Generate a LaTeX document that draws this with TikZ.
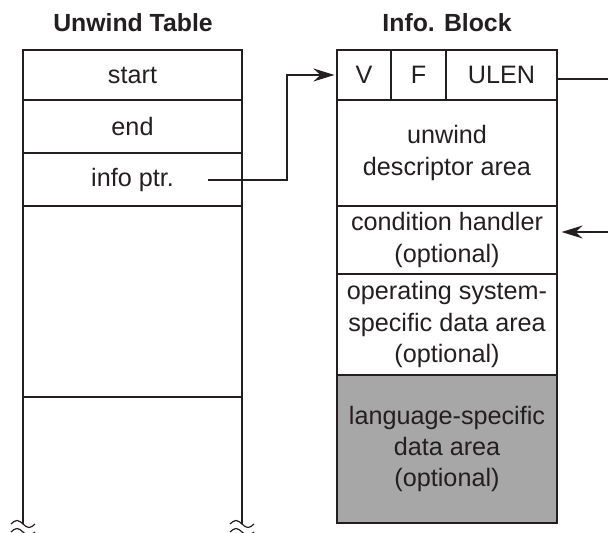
\documentclass[tikz,border=0pt]{standalone}
\usepackage{fontspec}
\setmainfont{Liberation Sans}
\usetikzlibrary{arrows.meta}
\definecolor{ink}{HTML}{231F20}
\definecolor{lsdgray}{HTML}{A7A7A7}
\tikzset{
  cell/.style={draw=ink, line width=0.6pt, inner sep=0pt, align=center, text=ink,
    minimum width=110pt, font=\fontsize{12.6}{15.6}\selectfont},
  frame/.style={draw=ink, line width=1pt},
  rowline/.style={draw=ink, line width=0.6pt},
  title/.style={text=ink, font=\fontsize{12.4}{14}\selectfont\bfseries},
  ptr/.style={draw=ink, line width=0.6pt, shorten >=1pt,
    -{Stealth[length=10.5pt, width=6.5pt, inset=3.5pt]}},
}

\begin{document}
\begin{tikzpicture}[x=0.5pt, y=-0.5pt]
\useasboundingbox (0,0) rectangle (608,533);
% titles
\node[title] (uwtitle) at (133,23) {Unwind Table};
\node[title] (ibtitle) at (447,23) {Info. Block};
% unwind table
\node[cell, minimum width=109.5pt, minimum height=25pt] (start) at (132.5,75) {start};
\node[cell, minimum width=109.5pt, minimum height=26.5pt] (end) at (132.5,126.5) {end};
\node[cell, minimum width=109.5pt, minimum height=26.5pt] (infoptr) at (132.5,179.5) {info ptr.};
\draw[rowline] (23,397) -- (242,397);
\draw[frame] (23,524) -- (23,50) -- (242,50) -- (242,524);
% breaks
\draw[rowline] (11,524) sin (17,520.5) cos (23,524) sin (29,527.5) cos (35,524);
\draw[rowline] (11,532) sin (17,528.5) cos (23,532) sin (29,535.5) cos (35,532);
\draw[rowline] (230,524) sin (236,520.5) cos (242,524) sin (248,527.5) cos (254,524);
\draw[rowline] (230,532) sin (236,528.5) cos (242,532) sin (248,535.5) cos (254,532);
% info block
\node[cell, minimum width=27pt, minimum height=25pt] (vfield) at (364,75) {V};
\node[cell, minimum width=27.5pt, minimum height=25pt] (ffield) at (418.5,75) {F};
\node[cell, minimum width=55.5pt, minimum height=25pt] (ulen) at (501.5,75) {ULEN};
\node[cell, minimum height=53pt] (uda) at (447,153) {unwind\\descriptor area};
\node[cell, minimum height=34pt] (handler) at (447,240) {condition handler\\(optional)};
\node[cell, minimum height=50.5pt] (ossda) at (447,324.5) {operating system-\\specific data area\\(optional)};
\node[cell, fill=lsdgray, minimum height=74pt] (lsda) at (447,449) {language-specific\\data area\\(optional)};
\draw[frame] (337,50) rectangle (557,523);
% connectors
\coordinate (ptrout) at (208,180);
\coordinate (ulenout) at (608,79);
\coordinate (handlerin) at (608,232);
\draw[ptr] (ptrout) -- ++(79,0) |- (vfield.west);
\draw[rowline] (ulen.east |- ulenout) -- (ulenout);
\draw[ptr, shorten >=2pt] (handlerin) -- (handler.east |- handlerin);
\end{tikzpicture}
\end{document}
